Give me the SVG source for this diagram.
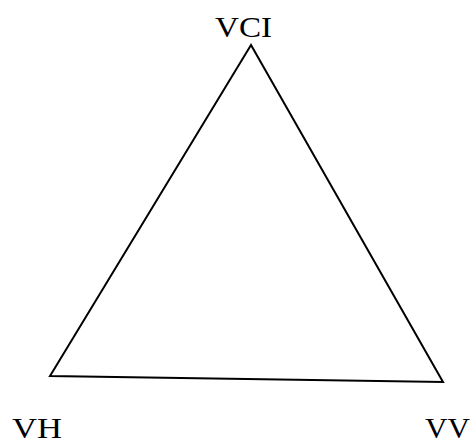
<svg xmlns="http://www.w3.org/2000/svg" width="474" height="444" viewBox="0 0 474 444">
<style>
.lbl{font-family:"Liberation Serif","Times New Roman",serif;font-size:30px;fill:#000}
.edge{fill:none;stroke:#000;stroke-width:2;stroke-linejoin:miter}
</style>
<rect width="474" height="444" fill="#fff"/>
<g id="connectors">
<path class="edge" d="M251,45 L50,376 L443,382 Z"/>
</g>
<g id="node-VCI"><text class="lbl" x="215" y="37" textLength="57" lengthAdjust="spacingAndGlyphs">VCI</text></g>
<g id="node-VH"><text class="lbl" x="12" y="438" textLength="50" lengthAdjust="spacingAndGlyphs">VH</text></g>
<g id="node-VV"><text class="lbl" x="425" y="438" textLength="45" lengthAdjust="spacingAndGlyphs">VV</text></g>
</svg>
